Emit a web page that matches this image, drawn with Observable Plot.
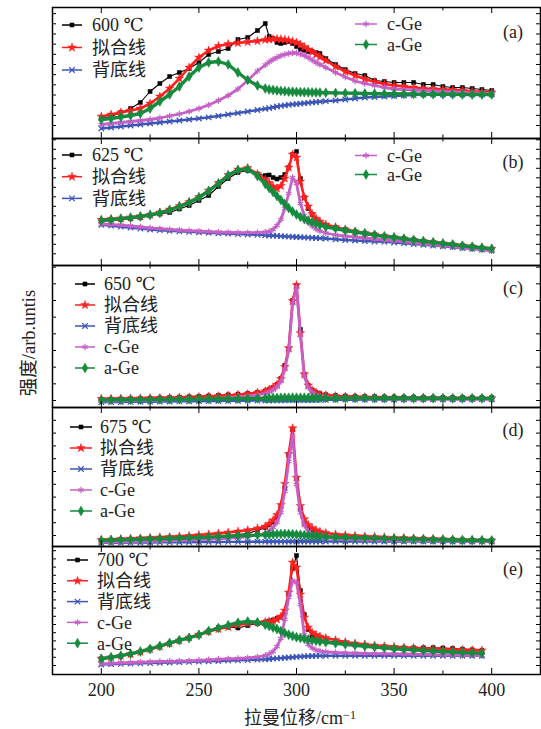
<!DOCTYPE html>
<html><head><meta charset="utf-8">
<script src="https://cdn.jsdelivr.net/npm/d3@7"></script>
<script src="https://cdn.jsdelivr.net/npm/@observablehq/plot@0.6"></script>
<style>
body{margin:0;background:#fff;}
#chart{position:relative;width:541px;height:729px;overflow:hidden;background:#fff;}
#chart svg{position:absolute;left:0;}
.ytitle{position:absolute;left:27px;top:343px;transform:translate(-50%,-50%) rotate(-90deg);font-size:18.5px;white-space:nowrap;color:#222;
font-family:"Liberation Serif","DejaVu Serif","Noto Sans CJK SC",serif;}
</style></head><body><div id="chart"></div>
<script>
// Raman shift grid (cm^-1)
const shift = [200,205,210,215,220,225,230,235,240,245,250,255,260,265,270,275,280,
  284,286,288,290,292,294,296,298,300,302,304,306,308,310,312,
  315,320,325,330,335,340,345,350,355,360,365,370,375,380,385,390,395,400];
const shiftE = shift.slice(0, 49);

// (a) 600 ℃
const measA = [20,22,26,30,36,47,55,62,66,70,76,84,87,90,99,101,108, 115,102,100,96,95,96,97,95,92,89,88,87,87,86,85, 80,74,69,65,63,58,57,56,56,56,54,54,52,51,51,50,49,48];
const fitA  = [22,24,26,28,30,35,42,50,60,71,81,88,92.5,94.5,95.5,96.5,97.5, 98.7,99.1,99.4,99.5,99.3,98.8,98.2,97.2,96,94,91.5,89,86.5,84,81.5, 78,72,67,63,59.5,56.5,54.5,53,52,51,50,49.5,49,48.5,48,47,46.5,46];
const bgA   = [10,11,12,13,14,15,16,17,18,19,20,21.2,22.5,24,25.5,27,28.5, 29.7,30.4,31.2,32,32.6,33.2,33.7,34.1,34.5,34.9,35.3,35.7,36.1,36.5,36.8, 37.3,38,39,40,41,41.5,42,42.5,43,43.5,44,44,44,44,44,44,44,44];
const cgeA  = [14,15,16,17,18,19,20.5,22.5,24.5,27,30,33.5,38,43,49.5,58,67.5, 73.5,76.5,79,81,82.8,84,85,85.5,85.5,84.5,83,81,78.5,76,74, 71,66,61.5,57.5,55,53,51,49.5,49,48.5,48,47.5,47,46.5,46,45.5,45,45];
const ageA  = [19,20,21.5,23,25,30,37,44,52,62,71,76,77,74,66,58.5,53, 50,49,48.5,48,47.6,47.2,46.9,46.7,46.5,46.4,46.3,46.2,46.1,46,45.9, 45.8,45.6,45.4,45.2,45,44.9,44.8,44.7,44.6,44.5,44.4,44.3,44.2,44.1,44,44,44,44];

// (b) 625 ℃
const measB = [45,45.5,46,46.7,48,50,51.5,53,56.5,60,65,70,79,87,93,95,91.5, 90,90.5,88,86.5,88,91,98,111,114,87,68,57,51,46,43, 40,38,36,34,32.5,31,29.5,28,27,25.8,24.5,23.3,22,21,20,19,17.5,16.5];
const fitB  = [45.8,46.5,47.2,48.2,49.3,50.8,53,56,59.5,63.5,68.5,75,82.5,90.5,96,97.5,91.5, 86,82.5,79,77,79.5,87,98,111,108,84,68,59,51.5,47,44, 41,38.5,36,34,32.5,31,29.5,28.3,27,25.8,24.5,23.3,22.2,21.1,20,18.9,17.8,16.8];
const bgB   = [40.7,39.8,38.8,37.8,36.9,36,35.3,34.7,34.1,33.6,33.2,32.7,32.2,31.8,31.4,31,30.6, 30.2,30,29.8,29.6,29.4,29.1,28.9,28.7,28.5,28.3,28.1,27.9,27.7,27.5,27.3, 27,26.2,25.5,25,24.5,24,23.6,23,22.3,21.5,20.7,19.9,19.1,18.3,17.5,16.7,15.8,15];
const cgeB  = [41.5,41,40.3,39.5,38.5,37.5,36.8,36,35.3,34.8,34.3,33.8,33.4,33.1,32.9,32.8,33, 33.3,34,36,40,46,57,72,88,82,62,50,43,39.5,36.5,34.5, 32.5,30.5,29.3,28.5,27.5,26.5,25.5,24.6,23.8,22.7,21.7,20.8,19.9,18.9,17.9,16.9,16,15];
const ageB  = [45,45.8,46.7,47.8,49,50.5,52.5,55.5,59,63,68,74.5,82,90,95.5,96.5,89.5, 81.5,77.5,73.5,69.5,65.5,61.5,57.5,54,51,48.5,46.5,45,43.5,42,40.5, 38.5,37,35,33.5,32,30.5,29,28,26.8,25.5,24.2,23.1,22,21,19.8,18.7,17.7,16.7];

// (c) 650 ℃
const measC = [8,8.2,8.5,8.8,9,9.3,9.6,10,10.3,10.7,11.1,11.6,12.1,12.7,13.3,14,15.2, 16.5,18,20,23,29,42,58,107,122,78,33,22,17.5,15,13.8, 12.8,12,11.5,11.2,11,10.8,10.6,10.5,10.4,10.3,10.2,10.1,10,10,10,10,10,10];
const fitC  = [8.7,8.8,8.9,9,9.2,9.4,9.6,9.8,10,10.3,10.6,11,11.4,12,12.7,13.5,14.8, 16.3,17.9,19.9,23,28.5,40.5,59.5,106.5,122.4,74.4,33.3,22.2,17.2,14.6,13, 12.4,11.4,10.9,10.6,10.3,10.1,9.9,9.9,9.7,9.6,9.6,9.6,9.4,9.4,9.4,9.3,9.3,9.3];
const bgC   = [5.3,5.4,5.5,5.6,5.7,5.8,5.9,6,6.1,6.2,6.3,6.4,6.5,6.6,6.7,6.8,6.9, 7,7,7.1,7.1,7.2,7.2,7.3,7.3,7.4,7.4,7.5,7.5,7.5,7.6,7.6, 7.7,7.7,7.8,7.8,7.9,7.9,8,8,8,8.1,8.1,8.1,8.2,8.2,8.2,8.3,8.3,8.3];
const cgeC  = [6.5,6.6,6.7,6.8,7,7.2,7.4,7.6,7.8,8.1,8.4,8.8,9.2,9.8,10.5,11.3,12.5, 14,15.5,17.5,20.5,26,38,57,104,120,72,31,20,15,12.5,11, 10.5,9.6,9.2,9,8.8,8.7,8.6,8.6,8.5,8.5,8.5,8.5,8.5,8.5,8.5,8.5,8.5,8.5];
const ageC  = [7.5,7.6,7.7,7.8,7.9,8,8.1,8.2,8.3,8.4,8.5,8.6,8.7,8.8,8.9,9,9.2, 9.3,9.4,9.5,9.6,9.7,9.7,9.8,9.8,9.8,9.8,9.8,9.7,9.7,9.7,9.6, 9.6,9.5,9.5,9.4,9.4,9.3,9.3,9.3,9.2,9.2,9.2,9.2,9.1,9.1,9.1,9.1,9.1,9.1];

// (d) 675 ℃
const measD = [6,6.3,6.6,6.9,7.2,7.5,7.7,8.1,8.5,8.9,9.3,9.8,10.4,11,11.7,13.3,16, 19,21.5,24.3,29.3,40,58,92,117,68,38,23,18,15,13,11.7, 10.8,10,9.2,8.5,8.2,8,7.9,7.8,7.7,7.7,7.7,7.5,7.2,7,6.7,6.5,6.2,6];
const fitD  = [6.6,7,7.5,7.9,8.3,8.8,9.2,9.6,10.1,10.7,11.4,12.2,13.1,14,15.1,16.3,18.1, 20,22.7,26.3,31.5,41.6,62.7,92.5,118.3,69,40.7,27.4,21.6,18.3,16.3,14.8, 13.5,12.2,11.4,10.7,10.1,9.7,9.2,8.8,8.5,8.2,7.9,7.6,7.3,7,6.7,6.5,6.3,6.1];
const bgD   = [3.7,3.8,3.8,3.9,4,4,4.1,4.2,4.2,4.3,4.4,4.4,4.5,4.6,4.6,4.7,4.8, 4.8,4.8,4.9,4.9,4.9,4.9,5,5,5,5,5,5,5,5,5, 5,5,5,5,5,5,5,5,5,5,5,5,5,5,5,5,5,5];
const cgeD  = [4.3,4.5,4.7,4.9,5.1,5.3,5.5,5.8,6,6.4,6.8,7.2,7.7,8.3,9,10,11.5, 13,15.5,19,24,34,55,85,111,62,34,21,15.5,12.5,10.8,9.6, 8.7,7.9,7.4,7,6.7,6.5,6.3,6.1,6,5.9,5.8,5.7,5.6,5.5,5.4,5.3,5.2,5.1];
const ageD  = [6,6.3,6.6,6.9,7.2,7.5,7.8,8,8.3,8.6,9,9.4,9.9,10.3,10.7,11,11.4, 11.8,12,12.2,12.4,12.5,12.6,12.5,12.3,12,11.7,11.4,11.1,10.8,10.5,10.2, 9.8,9.3,9,8.7,8.4,8.2,7.9,7.7,7.5,7.3,7.1,6.9,6.7,6.5,6.3,6.2,6.1,6];

// (e) 700 ℃
const measE = [15.7,17,18.5,20,22.5,26,28.5,31.5,34.5,36.5,39,43.5,47,47.5,46.5,49,51, 52.5,53.5,54.5,56,57.3,62,80,106,119,84,60,45,38,36,34.5, 33.8,32.7,31.5,30.2,29.2,28.2,27.5,26.8,26.7,26.7,26.7,26.8,26.5,26,25.3,24.7,24];
const fitE  = [16,17.2,18.7,20.5,22.7,25.2,28,31,34,37,40,43,45.5,47.5,49.5,51,52, 52.5,53,53.5,55,58,64,82,112,107,80,57,47,42,39.5,38, 36.5,34.5,32.5,31,30,29,28.3,27.6,27,26.5,26,25.6,25.2,24.9,24.6,24.3,24];
const bgE   = [10,10.3,10.6,10.9,11.1,11.4,11.7,12,12.3,12.6,12.9,13.2,13.5,13.8,14.1,14.4,14.8, 15.2,15.5,15.8,16.1,16.4,16.7,17,17.3,17.6,17.9,18.2,18.4,18.5,18.6,18.6, 18.7,18.7,18.7,18.7,18.7,18.7,18.7,18.7,18.7,18.7,18.7,18.7,18.7,18.7,18.7,18.7,18.7];
const cgeE  = [10.7,11.2,11.6,12,12.4,12.7,13,13.2,13.4,13.7,14.2,14.7,15.2,15.6,16,16.6,17.5, 19,20.5,23,28,36,55,77,94,92,70,40,30,26.5,24.5,23.5, 22.7,22,21.6,21.3,21,20.9,20.8,20.7,20.5,20.3,20.1,19.9,19.7,19.5,19.3,19.1,19];
const ageE  = [15.7,17.2,18.8,20.7,23,25.5,28.5,31.5,34.3,36.5,39.5,43.5,46.5,49.3,51.8,53,52.2, 49.8,48.5,47,45.5,43.5,41.5,39.8,38.5,37.3,36.5,35.7,35,34.3,33.6,33, 32.3,31.2,30.1,29.2,28.3,27.4,26.6,25.8,25.2,24.6,24,23.5,23,22.5,22,21.6,21.2];

// labels
const temps = ["600 ℃", "625 ℃", "650 ℃", "675 ℃", "700 ℃"];
const tags = ["(a)", "(b)", "(c)", "(d)", "(e)"];
const seriesNames = ["拟合线", "背底线", "c-Ge", "a-Ge"];
const xMajor = [200, 250, 300, 350, 400];
const xMinor = [225, 275, 325, 375];
const xTitle = "拉曼位移/cm";
const yTitle = "强度/arb.untis";

const FONT = '"Liberation Serif","DejaVu Serif","Noto Sans CJK SC",serif';
const C = {meas:"#000000", fit:"#ff1f1f", bg:"#3b55b8", cge:"#c460c6", age:"#168a3e"};
const SYM = {meas:"square", fit:"star", bg:"times", cge:"asterisk", age:"diamond"};
const D3SYM = {square:d3.symbolSquare, star:d3.symbolStar, times:d3.symbolTimes, asterisk:d3.symbolAsterisk, diamond:d3.symbolDiamond};
const STROKE_SYM = {times:true, asterisk:true};
const LW = {meas:1.1, fit:2.6, bg:2.4, cge:2.8, age:3.4};
const R  = {meas:2.3, fit:2.7, bg:2.6, cge:3.0, age:3.0};

const layout = [
  {top:7,   h:131, t0:13, ts:10.17, legend:{cols:[{keys:["meas","fit","bg"], x1:62, x2:82, tx:92, y0:18, dy:22.5},{keys:["cge","age"], x1:355, x2:377, tx:387, y0:17, dy:20.5}]}, tagY:25},
  {top:138, h:127, t0:11.7, ts:9.5, legend:{cols:[{keys:["meas","fit","bg"], x1:62, x2:82, tx:92, y0:17, dy:21.7},{keys:["cge","age"], x1:355, x2:377, tx:387, y0:17.5, dy:19}]}, tagY:24},
  {top:265, h:142, t0:7, ts:16.67, legend:{cols:[{keys:["meas","fit","bg","cge","age"], x1:75, x2:95, tx:104, y0:19, dy:21}]}, tagY:23},
  {top:407, h:139, t0:11, ts:12.8, legend:{cols:[{keys:["meas","fit","bg","cge","age"], x1:70, x2:92, tx:100, y0:20, dy:21}]}, tagY:23},
  {top:546, h:128, t0:9, ts:8.2, legend:{cols:[{keys:["meas","fit","bg","cge","age"], x1:67, x2:88, tx:97, y0:14, dy:20.8}]}, tagY:23},
];
const data = [
  {shift, meas:measA, fit:fitA, bg:bgA, cge:cgeA, age:ageA},
  {shift, meas:measB, fit:fitB, bg:bgB, cge:cgeB, age:ageB},
  {shift, meas:measC, fit:fitC, bg:bgC, cge:cgeC, age:ageC},
  {shift, meas:measD, fit:fitD, bg:bgD, cge:cgeD, age:ageD},
  {shift:shiftE, meas:measE, fit:fitE, bg:bgE, cge:cgeE, age:ageE},
];

const chart = document.getElementById("chart");
const W = 541, ML = 52, MR = 1;
const innerW = W - ML - MR;

function seriesMarks(rows, key) {
  const isStroke = STROKE_SYM[SYM[key]];
  return [
    Plot.line(rows, {x:"x", y:key, stroke:C[key], strokeWidth:LW[key]}),
    Plot.dot(rows, {x:"x", y:key, symbol:SYM[key], r:R[key],
      fill: isStroke ? "none" : C[key], stroke: C[key], strokeWidth: isStroke ? 1.2 : 0.5})
  ];
}

data.forEach((d, pi) => {
  const L = layout[pi];
  const last = pi === data.length - 1;
  const mt = 1, mb = last ? 55 : 1;
  const H = L.h;
  const rows = d.shift.map((x, i) => ({x, meas:d.meas[i], fit:d.fit[i], bg:d.bg[i], cge:d.cge[i], age:d.age[i]}));
  const yTicks = d3.range(L.t0, H - 1, L.ts);
  const marks = [
    ...seriesMarks(rows, "meas"),
    ...seriesMarks(rows, "fit"),
    ...seriesMarks(rows, "bg"),
    ...seriesMarks(rows, "cge"),
    ...seriesMarks(rows, "age"),
    Plot.tickX(xMajor, {x:d=>d, stroke:"#000", insetTop:H-6}),
    Plot.tickX(xMinor, {x:d=>d, stroke:"#000", insetTop:H-3.5}),
    Plot.tickX(xMajor, {x:d=>d, stroke:"#000", insetBottom:H-6}),
    Plot.tickX(xMinor, {x:d=>d, stroke:"#000", insetBottom:H-3.5}),
    Plot.tickY(yTicks, {y:d=>d, stroke:"#000", insetRight:innerW-4}),
    Plot.tickY(yTicks, {y:d=>d, stroke:"#000", insetLeft:innerW-4}),
    Plot.frame({stroke:"#000", strokeWidth:1.5}),
  ];
  if (last) marks.push(Plot.axisX(xMajor, {anchor:"bottom", tickSize:0, tickPadding:9, fontSize:18, label:null}));
  const svg = Plot.plot({
    width:W, height:H+mt+mb, marginLeft:ML, marginRight:MR, marginTop:mt, marginBottom:mb,
    x:{domain:[175,425], ...(last ? {} : {axis:null})},
    y:{domain:[0,H], axis:null},
    style:{background:"transparent", fontFamily:FONT, fontSize:"18px", overflow:"visible", color:"#222"},
    marks
  });
  svg.style.top = (L.top - mt) + "px";
  const g = d3.select(svg).append("g").attr("font-family", FONT).attr("font-size", 18)
    .attr("fill", "#222").attr("text-anchor", "start");
  L.legend.cols.forEach(col => {
    col.keys.forEach((k, i) => {
      const y = mt + col.y0 + i * col.dy;
      const label = k === "meas" ? temps[pi] : seriesNames[["fit","bg","cge","age"].indexOf(k)];
      g.append("line").attr("x1", col.x1).attr("x2", col.x2).attr("y1", y).attr("y2", y)
        .attr("stroke", C[k]).attr("stroke-width", 1.5);
      const sym = SYM[k];
      g.append("path").attr("d", d3.symbol(D3SYM[sym], Math.PI*R[k]*R[k])())
        .attr("transform", `translate(${(col.x1+col.x2)/2},${y})`)
        .attr("fill", STROKE_SYM[sym] ? "none" : C[k]).attr("stroke", C[k]).attr("stroke-width", STROKE_SYM[sym] ? 1.2 : 0.5);
      g.append("text").attr("x", col.tx).attr("y", y).attr("dy", "0.35em").text(label);
    });
  });
  g.append("text").attr("x", 513).attr("y", mt + L.tagY).attr("dy", "0.35em").attr("text-anchor", "middle").text(tags[pi]);
  if (last) {
    const t = g.append("text").attr("x", 300).attr("y", 718 - (L.top - mt)).attr("dy", "0.35em").attr("text-anchor", "middle");
    t.append("tspan").text(xTitle);
    t.append("tspan").attr("dy", "-0.45em").attr("font-size", 12).text("−1");
  }
  chart.appendChild(svg);
});

const yt = document.createElement("div");
yt.className = "ytitle";
yt.textContent = yTitle;
chart.appendChild(yt);
</script>
</body></html>
